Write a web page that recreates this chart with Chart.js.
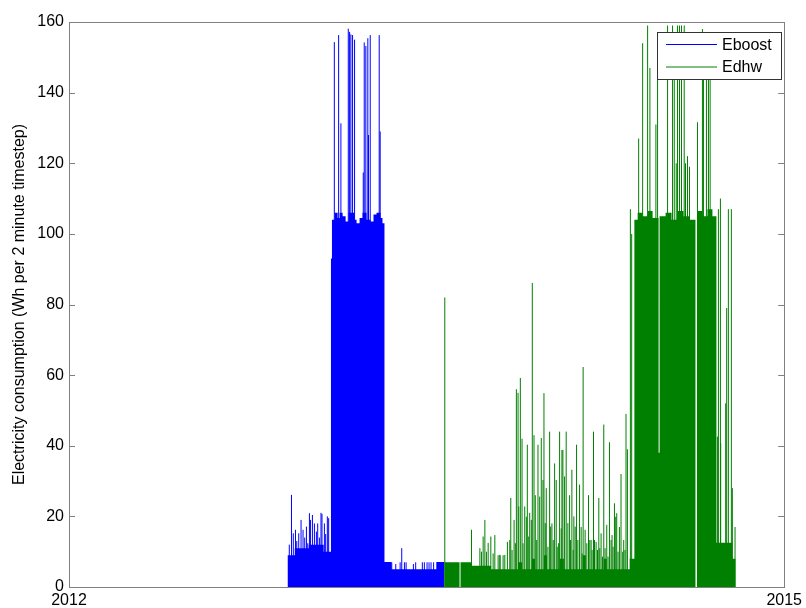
<!DOCTYPE html>
<html><head><meta charset="utf-8">
<script src="https://cdn.jsdelivr.net/npm/chart.js@4.4.1/dist/chart.umd.min.js"></script>
<style>html,body{margin:0;padding:0;background:#fff;}canvas{display:block;}</style>
</head><body>
<canvas id="c" width="806" height="608"></canvas>
<script>
// ---- data (x in decimal years, y in Wh per 2 minute timestep) ----
const seriesNames = ['Eboost', 'Edhw'];
const xTickYears = [2012, 2015];
const xTickLabels = ['2012', '2015'];
const yTicks = [0, 20, 40, 60, 80, 100, 120, 140, 160];
const yTitle = 'Electricity consumption (Wh per 2 minute timestep)';

// dense solid band (level from this year on)
const eboostStepYear = [2012.9165, 2012.9470, 2013.0056, 2013.0683, 2013.0988, 2013.1030, 2013.1143, 2013.1268, 2013.1352, 2013.1477, 2013.1603, 2013.1728, 2013.1979, 2013.2063, 2013.2188, 2013.2313, 2013.2481, 2013.2648, 2013.2773, 2013.2899, 2013.3066, 2013.3150, 2013.3233, 2013.3526, 2013.5407, 2013.5742];
const eboostStepWh   = [9, 11, 12, 10, 93, 104, 106, 104.5, 106, 105, 103.5, 106, 104, 103, 104.5, 106, 104, 103.5, 105.5, 106, 104.5, 103, 7.1, 5.0, 7.1, 0];

// individual spikes
const eboostSpikeYear = [2012.9240, 2012.9332, 2012.9408, 2012.9500, 2012.9554, 2012.9637, 2012.9734, 2012.9817, 2012.9888, 2012.9959, 2013.0014, 2013.0085, 2013.0127, 2013.0210, 2013.0294, 2013.0377, 2013.0432, 2013.0503, 2013.0570, 2013.0612, 2013.0712, 2013.0766, 2013.0837, 2013.0892,
  2013.1130, 2013.1310, 2013.1406, 2013.1715, 2013.1770, 2013.1824, 2013.1895, 2013.1979, 2013.2343, 2013.2384, 2013.2451, 2013.2535, 2013.2564, 2013.2635, 2013.3012, 2013.3053,
  2013.3538, 2013.3706, 2013.3890, 2013.3957, 2013.4069, 2013.4140, 2013.4446, 2013.4542, 2013.4822, 2013.4906, 2013.5019, 2013.5102, 2013.5186, 2013.5295];
const eboostSpikeWh = [12, 26.1, 15.2, 16.2, 13, 15.2, 19, 16.2, 14, 17.1, 12.4, 20.9, 19, 20.4, 18, 15.7, 18, 14, 21, 20.7, 18, 15, 20, 19.5,
  154.3, 156.3, 131.3, 158.1, 157.2, 156.5, 156.3, 155, 117.4, 154.2, 153.2, 155.4, 128, 156.3, 156.3, 129,
  7, 6.5, 7, 11, 7, 7, 6.5, 7, 7, 7, 7, 7, 7, 7];

const edhwStepYear = [2013.5742, 2013.6382, 2013.6423, 2013.6871, 2013.7707, 2013.8836, 2013.9003, 2013.9421, 2013.9547, 2013.9923, 2014.0048, 2014.0592, 2014.0759, 2014.1554, 2014.1679, 2014.2432, 2014.2557, 2014.3519, 2014.3715, 2014.3853, 2014.4062, 2014.4271, 2014.4480, 2014.4731, 2014.4773, 2014.5024, 2014.5275, 2014.5526, 2014.5777, 2014.6027, 2014.6278, 2014.6341, 2014.6570, 2014.6780, 2014.6989, 2014.7157, 2014.7825, 2014.7963];
const edhwStepWh   = [7, 0, 7, 6, 5, 7, 5, 8, 5, 9, 5, 8, 5, 9, 5, 8, 5, 8, 104, 106, 105, 106.5, 104.5, 38, 105, 106, 104, 106.5, 105, 104, 0, 106.5, 105, 107, 105, 12.5, 8, 0];

const edhwSpikeYear = [2013.5763, 2013.6883, 2013.7235, 2013.7372, 2013.7444, 2013.7582, 2013.7694, 2013.7862, 2013.8000, 2013.8083, 2013.8209, 2013.8389, 2013.8531, 2013.8669, 2013.8765, 2013.8836, 2013.8932, 2013.9003, 2013.9116, 2013.9225, 2013.9325, 2013.9434, 2013.9505, 2013.9559, 2013.9672, 2013.9810, 2013.9923, 2014.0019, 2014.0161, 2014.0257, 2014.0370, 2014.0479, 2014.0579, 2014.0676, 2014.0788, 2014.0855, 2014.0998, 2014.1094, 2014.1177, 2014.1290, 2014.1416, 2014.1483, 2014.1566, 2014.1650, 2014.1792, 2014.1901, 2014.2001, 2014.2110, 2014.2223, 2014.2319, 2014.2432, 2014.2557, 2014.2670, 2014.2779, 2014.2879, 2014.2975, 2014.3088, 2014.3155, 2014.3268, 2014.3364, 2014.3423, 2014.3548, 2014.3602,
  2014.3895, 2014.4062, 2014.4271, 2014.4367, 2014.4618, 2014.4689, 2014.5108, 2014.5317, 2014.5388, 2014.5471, 2014.5526, 2014.5609, 2014.5693, 2014.5806, 2014.5860, 2014.5944, 2014.6027, 2014.6362, 2014.6570, 2014.6613, 2014.6738, 2014.6822, 2014.6893,
  2014.7198, 2014.7240, 2014.7324, 2014.7336, 2014.7545, 2014.7587, 2014.7658, 2014.7783, 2014.7825, 2014.7938];
const edhwSpikeWh = [82, 16.2, 11, 14.3, 19, 12.5, 14.3, 14.7, 9, 9, 9, 12.8, 25.2, 19, 56, 55, 59.2, 42, 22.8, 40.3, 21, 86.1, 43, 26, 40.3, 42.2, 54.9, 28, 44, 18, 35, 11.4, 44, 38.8, 31.3, 44, 26, 33.2, 20, 40.3, 29, 17, 62.3, 16.2, 26, 13.3, 44, 12.8, 25.2, 15.2, 46, 17.6, 41, 14.7, 23.7, 20.9, 17, 32, 13.3, 49, 39, 107, 100,
  127, 154, 159, 147, 131, 157, 159, 159, 155, 120, 159, 159, 159, 159, 120, 122, 119, 131.6, 158, 153.7, 145.7, 146, 146,
  42.6, 107, 110, 40.8, 52, 79, 107, 107, 28, 17];

// smaller spikes in the dense 2013-2014 stretch
const edhwMinorSpikeYear = [2013.7301, 2013.7510, 2013.7791, 2013.8071, 2013.8280, 2013.8489, 2013.8585, 2013.8723, 2013.8865, 2013.9045, 2013.9183, 2013.9283, 2013.9392, 2013.9618, 2013.9743, 2013.9881, 2013.9977, 2014.0090, 2014.0203, 2014.0312, 2014.0437, 2014.0538, 2014.0646, 2014.0717, 2014.0926, 2014.1039, 2014.1148, 2014.1232, 2014.1345, 2014.1524, 2014.1721, 2014.1846, 2014.1942, 2014.2043, 2014.2168, 2014.2264, 2014.2377, 2014.2486, 2014.2611, 2014.2737, 2014.2821, 2014.2933, 2014.3030, 2014.3226, 2014.3322];
const edhwMinorSpikeWh = [10, 10, 9.5, 9.1, 9.1, 13.3, 10.5, 12.4, 22.8, 12.4, 19.9, 14.3, 19, 13.3, 25.6, 30.3, 18.1, 11.4, 17.1, 13.3, 30.3, 12.4, 16.6, 38.8, 18.1, 13.3, 10.5, 17.1, 13.3, 9.5, 12.4, 13.3, 10.5, 13.3, 10.5, 11, 8.6, 11, 8.6, 13.3, 11.4, 19.9, 10, 10, 10.5];

const seriesColors = ['#0000ff', '#008000'];

// ---- build library tables ----
function stepPoints(xs, ys) {
  const pts = []; let prev = 0;
  for (let i = 0; i < xs.length; i++) { pts.push({x: xs[i], y: prev}); pts.push({x: xs[i], y: ys[i]}); prev = ys[i]; }
  return pts;
}
function spikePoints(xs, ys) {
  const pts = [];
  for (let i = 0; i < xs.length; i++) { pts.push({x: xs[i], y: 0}, {x: xs[i], y: ys[i]}, {x: xs[i], y: null}); }
  return pts;
}

const FONT = "'Liberation Sans', Arial, Helvetica, sans-serif";
Chart.defaults.font.family = FONT;
Chart.defaults.font.size = 16;
Chart.defaults.color = '#000';

const boxPlugin = {
  id: 'box',
  afterDraw(chart) {
    const {ctx, chartArea: a, scales} = chart;
    ctx.save();
    ctx.strokeStyle = '#808080'; ctx.lineWidth = 1;
    ctx.strokeRect(Math.round(a.left) + 0.5, Math.round(a.top) + 0.5, Math.round(a.right - a.left), Math.round(a.bottom - a.top));
    ctx.beginPath();
    yTicks.forEach(v => {
      const y = Math.round(scales.y.getPixelForValue(v)) + 0.5;
      ctx.moveTo(a.left, y); ctx.lineTo(a.left + 6, y);
      ctx.moveTo(a.right, y); ctx.lineTo(a.right - 6, y);
    });
    ctx.stroke();
    // legend
    const lx = 657, ly = 32, lw = 124, lh = 47;
    ctx.fillStyle = '#fff';
    ctx.fillRect(lx, ly, lw, lh);
    ctx.strokeStyle = '#333';
    ctx.strokeRect(lx + 0.5, ly + 0.5, lw, lh);
    ctx.font = '16px ' + FONT;
    ctx.textBaseline = 'middle';
    ctx.textAlign = 'left';
    seriesNames.forEach((n, i) => {
      const yy = ly + 12.5 + i * 22.5;
      ctx.strokeStyle = seriesColors[i];
      ctx.beginPath(); ctx.moveTo(lx + 9, yy); ctx.lineTo(lx + 60, yy); ctx.stroke();
      ctx.fillStyle = '#000';
      ctx.fillText(n, lx + 65, yy + 1);
    });
    ctx.restore();
  }
};

const noBorder = 'rgba(0,0,0,0)';
new Chart(document.getElementById('c'), {
  type: 'line',
  data: {
    datasets: [
      {label: seriesNames[1], data: spikePoints(edhwSpikeYear, edhwSpikeWh), borderColor: seriesColors[1], borderWidth: 1, pointRadius: 0, fill: false, spanGaps: false, order: 0},
      {label: seriesNames[1], data: spikePoints(edhwMinorSpikeYear, edhwMinorSpikeWh), borderColor: seriesColors[1], borderWidth: 1, pointRadius: 0, fill: false, spanGaps: false, order: 1},
      {label: seriesNames[1], data: stepPoints(edhwStepYear, edhwStepWh), borderColor: noBorder, backgroundColor: seriesColors[1], borderWidth: 0, pointRadius: 0, fill: 'origin', order: 2},
      {label: seriesNames[0], data: spikePoints(eboostSpikeYear, eboostSpikeWh), borderColor: seriesColors[0], borderWidth: 1, pointRadius: 0, fill: false, spanGaps: false, order: 3},
      {label: seriesNames[0], data: stepPoints(eboostStepYear, eboostStepWh), borderColor: noBorder, backgroundColor: seriesColors[0], borderWidth: 0, pointRadius: 0, fill: 'origin', order: 4}
    ]
  },
  options: {
    responsive: false,
    animation: false,
    devicePixelRatio: 1,
    events: [],
    layout: {padding: {top: 22, right: 19, bottom: 0, left: 0}},
    elements: {line: {tension: 0}},
    plugins: {legend: {display: false}, tooltip: {enabled: false}},
    scales: {
      x: {
        type: 'linear', min: xTickYears[0], max: xTickYears[xTickYears.length - 1],
        afterBuildTicks: s => { s.ticks = xTickYears.map(v => ({value: v})); },
        afterFit: s => { s.height = 21; },
        grid: {display: false, drawTicks: false},
        border: {display: false},
        ticks: {padding: 4, maxRotation: 0, autoSkip: false, color: '#000',
          callback: v => { const i = xTickYears.indexOf(v); return i >= 0 ? xTickLabels[i] : ''; }}
      },
      y: {
        min: yTicks[0], max: yTicks[yTicks.length - 1],
        afterBuildTicks: s => { s.ticks = yTicks.map(v => ({value: v})); },
        afterFit: s => { s.width = 69; },
        grid: {display: false, drawTicks: false},
        border: {display: false},
        ticks: {padding: 5, color: '#000'},
        title: {display: true, text: yTitle, color: '#000', font: {size: 16}, padding: {top: 10, bottom: 0}}
      }
    }
  },
  plugins: [boxPlugin]
});
</script>
</body></html>
